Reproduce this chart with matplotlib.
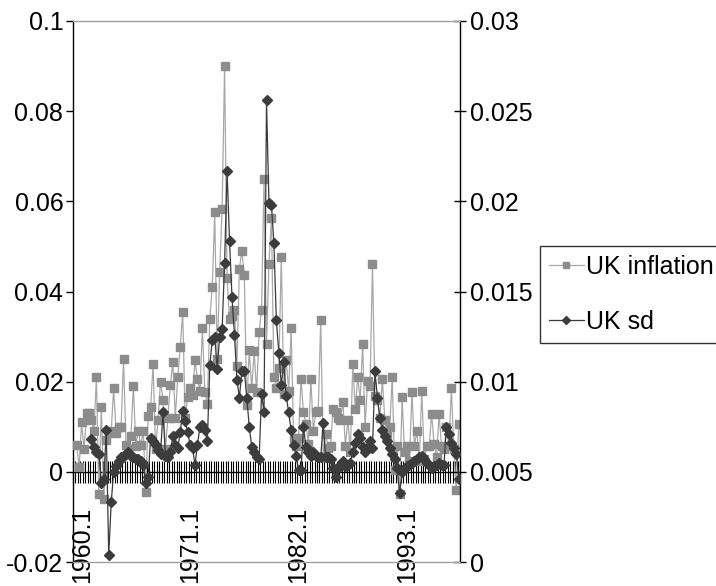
import numpy as np
import matplotlib
matplotlib.use("Agg")
import matplotlib.pyplot as plt

plt.rcParams['font.family'] = ['Liberation Sans', 'DejaVu Sans']

nan = np.nan
N = 157
periods = [f"{1959 + (q + 1) // 4}.{(q + 1) % 4 + 1}" for q in range(N)]
tick_labels = ["1960.1", "1971.1", "1982.1", "1993.1"]

uk_inflation = [
    nan,
    0.006, 0.001, 0.011, 0.005, 0.013, 0.013, 0.0115, 0.009, 0.021, -0.005,
    0.0144, -0.006, 0.007, 0.0087, 0.009, 0.0185, 0.0087, 0.01, 0.01, 0.025,
    0.006, 0.005, 0.008, 0.019, 0.0058, 0.009, 0.006, 0.009, -0.0045, 0.0123,
    0.0144, 0.0239, 0.005, 0.0115, 0.02, 0.016, 0.005, 0.012, 0.0193, 0.0243,
    0.012, 0.021, 0.0276, 0.0354, 0.012, 0.0165, 0.0185, 0.017, 0.0247,
    0.0205,
    0.018, 0.032, 0.0177, 0.015, 0.034, 0.041, 0.0576, 0.025, 0.0444, 0.0584,
    0.09, 0.043, 0.034, 0.0346, 0.036, 0.0235, 0.045, 0.049, 0.0436, 0.0148,
    0.027, 0.0185, 0.0267, 0.0177, 0.031, 0.036, 0.065, 0.0284, 0.046, 0.0564,
    0.021, 0.0185, 0.023, 0.0477, 0.0173, 0.0247, 0.018, 0.032, 0.0074, 0.0058,
    0.0074, 0.0206, 0.0132, 0.0107, 0.0062, 0.0206, 0.009, 0.0132, 0.0136, 0.0337,
    0.0033,
    0.0085,
    0.0053, 0.0058, 0.014, 0.0132, 0.012, 0.0115, 0.0156, 0.0058, 0.0115, 0.0045,
    0.0239, 0.014, 0.021, 0.016, 0.0284, 0.0099, 0.0202, 0.019, 0.046, 0.0169,
    0.016, 0.012, 0.0206,
    0.0115,
    0.008, 0.0099, 0.021, 0.0004, 0.0058, -0.005, 0.0165, 0.0045, 0.0058, 0.0025,
    0.0177, 0.0058, 0.009, 0.0025, 0.018, 0.0029, 0.0058, 0.0058, 0.0128, 0.0062,
    0.0033, 0.0128, 0.0058, 0.005, 0.0099, 0.0058, 0.0185, 0.005, -0.004, 0.0107,
]

uk_sd = [
    nan,
    nan, nan, nan, nan, nan, nan,
    0.0068, 0.0064, 0.0061, 0.006, 0.0044, 0.0046, 0.0073, 0.0004, 0.0033, 0.005,
    0.0053, 0.0056, 0.0058, 0.0059, 0.006, 0.0061, 0.0059, 0.0058, 0.0057, 0.0057,
    0.0056, 0.0054, 0.0044, 0.0047, 0.0069, 0.0067, 0.0065, 0.0062, 0.006, 0.0083,
    0.0059, 0.0058, 0.0061, 0.007, 0.0065, 0.0063, 0.0072, 0.0084, 0.0078, 0.0072,
    0.0065, 0.0063, 0.0054,
    0.0065,
    0.0075, 0.0076, 0.0073, 0.0067, 0.0109, 0.0123, 0.0125, 0.0107, 0.0125, 0.0129,
    0.0166, 0.0217, 0.0178, 0.0147, 0.0126, 0.0101, 0.0091, 0.0106, 0.0106, 0.0091,
    0.0075, 0.0064, 0.0061, 0.0058, 0.0057, 0.0093, 0.0083, 0.0256, 0.0199, 0.0198,
    0.0177, 0.0134, 0.0116, 0.0098, 0.0111, 0.0092, 0.0083, 0.0073, 0.0065, 0.0059,
    0.0051, 0.0051, 0.0075, 0.0064, 0.0061, 0.0059, 0.0061, 0.0059, 0.0058, 0.0058,
    0.0077,
    0.0058,
    0.0058, 0.0057, 0.0052, 0.0047, 0.0052, 0.0054, 0.0056, 0.0053, 0.0054, 0.0055,
    0.0061, 0.0066, 0.0071, 0.0069, 0.0064, 0.0061, 0.0064, 0.0067, 0.0063, 0.0106,
    0.0091, 0.008, 0.0073,
    0.007,
    0.0067, 0.0063, 0.006, 0.0057, 0.0052, 0.0038, 0.005, 0.0052, 0.0053, 0.0054,
    0.0055, 0.0056, 0.0057, 0.0058, 0.0059, 0.0057, 0.0055, 0.0054, 0.0052, 0.0053,
    0.0054, 0.0055, 0.0054, 0.0054, 0.0075, 0.0071, 0.0066, 0.0063, 0.006, 0.0046,
]

left_ticks = [-0.02, 0.0, 0.02, 0.04, 0.06, 0.08, 0.1]
left_labels = ["-0.02", "0", "0.02", "0.04", "0.06", "0.08", "0.1"]
right_ticks = [0.0, 0.005, 0.01, 0.015, 0.02, 0.025, 0.03]
right_labels = ["0", "0.005", "0.01", "0.015", "0.02", "0.025", "0.03"]

W, H = 716, 586
fig = plt.figure(figsize=(W / 100, H / 100), dpi=100)
L, R, T, B = 73, 460, 21, 562
ax = fig.add_axes([L / W, 1 - B / H, (R - L) / W, (B - T) / H])
ax2 = ax.twinx()

x = np.arange(N)
h1, = ax.plot(x, uk_inflation, color='#a8a8a8', lw=0.9, marker='s', ms=6.0,
              mfc='#8c8c8c', mec='#8c8c8c', zorder=3)
h2, = ax2.plot(x, uk_sd, color='#3a3a3a', lw=0.9, marker='D', ms=5.2,
               mfc='#3c3c3c', mec='#3c3c3c', zorder=3)

ax.set_xlim(-0.5, N - 0.5)
ax.set_ylim(-0.02, 0.1)
ax2.set_ylim(0, 0.03)

fs = 18
# left axis
ax.set_yticks(left_ticks)
ax.set_yticklabels(left_labels, fontsize=fs)
ax.tick_params(axis='y', direction='out', length=5, width=1, color='black', pad=2)
ax.spines['left'].set_color('black')
ax.spines['left'].set_linewidth(1)
ax.spines['top'].set_visible(False)
ax.spines['right'].set_visible(False)

# x axis crossing at zero with a tick at each category boundary
ax.set_axisbelow(True)
ax.spines['bottom'].set_position(('data', 0))
ax.spines['bottom'].set_color('black')
ax.spines['bottom'].set_linewidth(1)
ax.spines['bottom'].set_zorder(1)
ax.set_xticks(np.arange(N + 1) - 0.5)
ax.tick_params(axis='x', direction='inout', length=16, width=0.8, color='black',
               labelbottom=False)
for lbl in tick_labels:
    i = periods.index(lbl)
    ax.annotate(lbl, xy=(i, 0), xycoords='data', xytext=(0, -25),
                textcoords='offset points', rotation=90, ha='center', va='top',
                fontsize=fs, annotation_clip=False)

# right axis
ax2.set_yticks(right_ticks)
ax2.set_yticklabels(right_labels, fontsize=fs)
ax2.tick_params(axis='y', direction='inout', length=9, width=1, color='black', pad=3)
ax2.spines['right'].set_color('black')
ax2.spines['right'].set_linewidth(1)
ax2.spines['left'].set_visible(False)
for s in ('top', 'bottom'):
    ax2.spines[s].set_color('#a0a0a0')
    ax2.spines[s].set_linewidth(1)

leg = fig.legend([h1, h2], ['UK inflation', 'UK sd'], loc='upper left',
                 bbox_to_anchor=(540 / W, 1 - 246 / H), bbox_transform=fig.transFigure,
                 frameon=True, fancybox=False, edgecolor='black', fontsize=fs,
                 handlelength=1.4, handletextpad=0.1, borderpad=0.35,
                 labelspacing=1.25, borderaxespad=0, markerscale=0.8)
leg.get_frame().set_linewidth(1.0)

fig.savefig('out.png', dpi=100)
